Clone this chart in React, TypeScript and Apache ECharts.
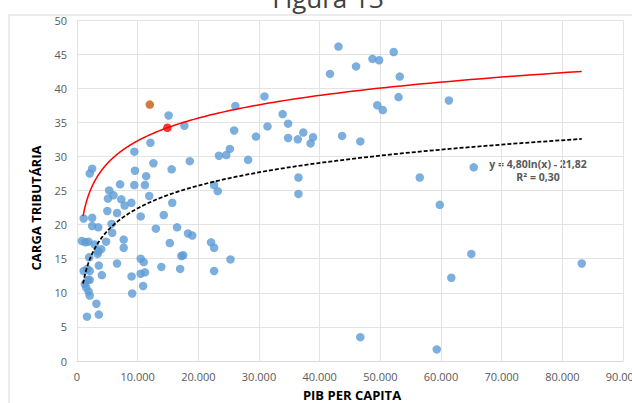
import React, { useEffect, useRef } from "react";
import * as echarts from "echarts";

// Blue points: [PIB per capita, carga tributária]
const BLUE_POINTS: number[][] = [
  [15100, 36.0], [17700, 34.5], [26100, 37.4], [25900, 33.8], [25200, 31.1],
  [29500, 32.9], [23400, 30.1], [24600, 30.2], [28200, 29.5], [12100, 32.0],
  [9450, 30.7], [12600, 29.0], [15600, 28.1], [18600, 29.3], [9550, 27.9],
  [11400, 27.1], [11200, 25.8], [9450, 25.8], [7100, 25.9], [5300, 25.0],
  [2500, 28.2], [2100, 27.5], [22600, 25.8], [23200, 24.9], [11900, 24.2],
  [6000, 24.3], [5100, 23.8], [7300, 23.7], [7850, 22.8], [8960, 23.2],
  [5000, 22.0], [6600, 21.7], [10500, 21.2], [15700, 23.2], [14300, 21.4],
  [1100, 20.9], [2500, 21.0], [2500, 19.8], [3500, 19.6], [5700, 20.1],
  [5800, 18.8], [13000, 19.4], [16500, 19.6], [18300, 18.7], [19000, 18.4],
  [800, 17.6], [1400, 17.4], [1900, 17.5], [4800, 17.5], [7700, 17.8],
  [7700, 16.6], [2900, 17.1], [3500, 16.1], [3400, 15.7], [4000, 16.4],
  [15300, 17.3], [22100, 17.4], [22600, 16.6], [2000, 15.2], [10500, 15.0],
  [11000, 14.5], [17200, 15.4], [17500, 15.5], [25300, 14.9], [6600, 14.3],
  [3600, 14.0], [1100, 13.2], [1700, 13.5], [2100, 13.2], [13900, 13.8],
  [17000, 13.5], [22600, 13.2], [10500, 12.8], [11200, 13.0], [4100, 12.6],
  [9000, 12.4], [1800, 11.9], [2100, 11.9], [1300, 11.3], [1500, 10.8],
  [1900, 10.2], [2100, 9.6], [10900, 11.0], [9100, 9.9], [3200, 8.4],
  [1650, 6.5], [3600, 6.8],
  [43100, 46.1], [41700, 42.1], [46000, 43.2], [48700, 44.3], [49800, 44.1],
  [52200, 45.3], [53200, 41.7], [53000, 38.7], [49500, 37.5], [50400, 36.8],
  [30900, 38.8], [33900, 36.2], [34800, 34.8], [31400, 34.4], [34800, 32.7],
  [36400, 32.5], [37300, 33.5], [38900, 32.8], [38500, 31.9], [43700, 33.0],
  [46700, 32.2], [36500, 26.9], [36500, 24.5], [56500, 26.9], [59800, 22.9],
  [46700, 3.5], [59300, 1.7], [61300, 38.2], [65400, 28.4], [65000, 15.7],
  [61700, 12.2], [83200, 14.3],
];
const ORANGE_POINT: number[][] = [[12000, 37.6]];
const RED_POINT: number[][] = [[14900, 34.2]];

// Logarithmic trend: y = A ln(x) + B
const TREND_A = 4.8;
const TREND_B = -21.82;
const RED_CURVE_B = -11.92; // same slope, shifted through the red point
const CURVE_X_START = 1000;
const CURVE_X_END = 83200;
const CURVE_SAMPLES = 160;

const EQUATION_TEXT = "y = 4,80ln(x) - 21,82";
const R2_TEXT = "R² = 0,30";
const TITLE = "Figura 13";
const X_TITLE = "PIB PER CAPITA";
const Y_TITLE = "CARGA TRIBUTÁRIA";

function logCurve(a: number, b: number): number[][] {
  const out: number[][] = [];
  const l0 = Math.log(CURVE_X_START);
  const l1 = Math.log(CURVE_X_END);
  for (let i = 0; i <= CURVE_SAMPLES; i++) {
    const lx = l0 + ((l1 - l0) * i) / CURVE_SAMPLES;
    const x = Math.exp(lx);
    out.push([x, a * lx + b]);
  }
  return out;
}

const fmtThousands = (v: number) =>
  String(Math.round(v)).replace(/\B(?=(\d{3})+(?!\d))/g, ".");

const FONT = '"Open Sans", "Noto Sans", sans-serif';

export default function App() {
  const ref = useRef<HTMLDivElement>(null);
  useEffect(() => {
    document.body.style.margin = "0";
    if (!ref.current) return;
    const chart = echarts.init(ref.current, undefined, { renderer: "svg" });
    chart.setOption({
      animation: false,
      backgroundColor: "#ffffff",
      grid: {
        left: 77,
        right: 9,
        top: 20,
        bottom: 42,
        containLabel: false,
        outerBoundsMode: "none",
      },
      xAxis: {
        type: "value",
        min: 0,
        max: 90000,
        interval: 10000,
        axisLine: { show: true, lineStyle: { color: "#d9d9d9" } },
        axisTick: { show: false },
        splitLine: { show: true, lineStyle: { color: "#e3e3e3" } },
        axisLabel: {
          color: "#595959",
          fontSize: 11,
          fontFamily: FONT,
          margin: 10,
          showMaxLabel: true,
          showMinLabel: true,
          formatter: (v: number) => fmtThousands(v),
        },
      },
      yAxis: {
        type: "value",
        min: 0,
        max: 50,
        interval: 5,
        axisLine: { show: false },
        axisTick: { show: false },
        splitLine: { show: true, lineStyle: { color: "#e3e3e3" } },
        axisLabel: {
          color: "#595959",
          fontSize: 11,
          fontFamily: FONT,
          margin: 10,
        },
      },
      graphic: [
        {
          type: "rect",
          shape: { x: 9, y: 15, width: 700, height: 500 },
          style: { fill: "none", stroke: "#d9d9d9", lineWidth: 1 },
          silent: true,
          z: -10,
        },
        {
          type: "text",
          x: 328,
          y: -2,
          style: {
            text: TITLE,
            font: `26px ${FONT}`,
            fill: "#404040",
            align: "center",
            verticalAlign: "middle",
          },
        },
        {
          type: "text",
          x: 352,
          y: 395,
          style: {
            text: X_TITLE,
            font: `bold 13px ${FONT}`,
            fill: "#000000",
            align: "center",
            verticalAlign: "middle",
          },
        },
        {
          type: "text",
          x: 36,
          y: 208,
          rotation: Math.PI / 2,
          style: {
            text: Y_TITLE,
            font: `bold 13px ${FONT}`,
            fill: "#000000",
            align: "center",
            verticalAlign: "middle",
          },
        },
        {
          type: "text",
          x: 538,
          y: 164,
          style: {
            text: EQUATION_TEXT,
            font: `bold 10.5px ${FONT}`,
            fill: "#595959",
            align: "center",
            verticalAlign: "middle",
          },
        },
        {
          type: "text",
          x: 538,
          y: 177,
          style: {
            text: R2_TEXT,
            font: `bold 10.5px ${FONT}`,
            fill: "#595959",
            align: "center",
            verticalAlign: "middle",
          },
        },
      ],
      series: [
        {
          type: "scatter",
          data: BLUE_POINTS,
          symbolSize: 8.5,
          itemStyle: { color: "#5B9BD5" },
        },
        {
          type: "line",
          data: logCurve(TREND_A, RED_CURVE_B),
          showSymbol: false,
          symbol: "none",
          smooth: false,
          lineStyle: { color: "#FF0000", width: 1.5 },
        },
        {
          type: "line",
          data: logCurve(TREND_A, TREND_B),
          showSymbol: false,
          symbol: "none",
          smooth: false,
          lineStyle: { color: "#000000", width: 1.75, type: [4, 2] },
        },
        {
          type: "scatter",
          data: ORANGE_POINT,
          symbolSize: 8.5,
          itemStyle: { color: "#C55A11" },
        },
        {
          type: "scatter",
          data: RED_POINT,
          symbolSize: 8.5,
          itemStyle: { color: "#FF0000" },
        },
      ],
    });
    return () => chart.dispose();
  }, []);
  return <div ref={ref} style={{ width: 632, height: 403 }} />;
}
